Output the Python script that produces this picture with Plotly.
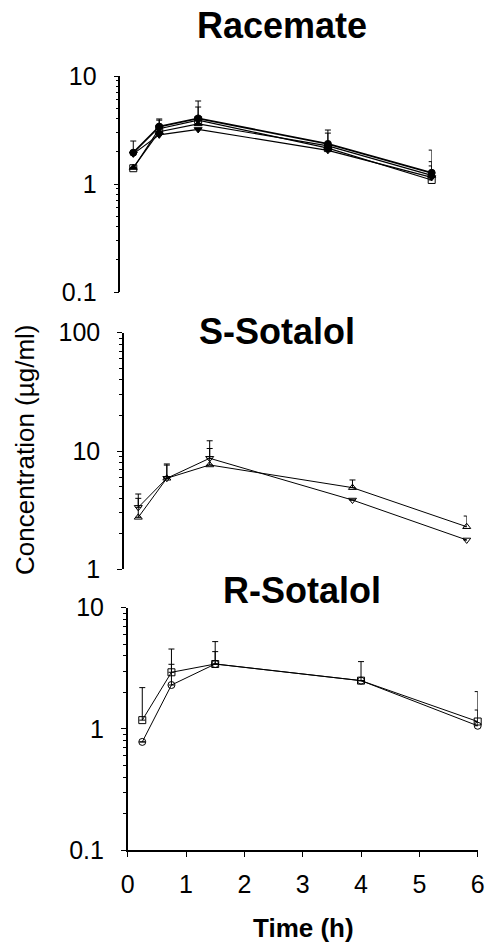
import plotly.graph_objects as go

# ---- data ----
time_h = [0.25, 0.75, 1.5, 4, 6]

# Racemate (four series)
rac_circle = [1.95, 3.40, 4.05, 2.35, 1.27]
rac_circle_err = [2.50, 4.00, 5.87, 3.16, 2.06]
rac_square = [1.40, 3.25, 3.90, 2.15, 1.09]
rac_square_err = [1.40, 3.90, 5.16, 2.96, 1.47]
rac_tri_up = [1.42, 3.05, 3.60, 2.25, 1.20]
rac_tri_up_err = [1.42, 3.05, 3.60, 2.25, 1.61]
rac_tri_down = [1.90, 2.85, 3.20, 2.05, 1.15]

# S-Sotalol
s_tri_down = [3.34, 5.88, 8.68, 3.85, 1.77]
s_tri_down_err = [4.33, 7.60, 12.2, 3.85, 1.77]
s_tri_up = [2.75, 5.88, 7.62, 4.90, 2.29]
s_tri_up_err = [3.98, 7.77, 10.5, 5.69, 2.82]

# R-Sotalol
r_square = [1.18, 2.93, 3.43, 2.50, 1.15]
r_square_err = [2.19, 4.56, 5.25, 3.59, 2.03]
r_circle = [0.78, 2.30, 3.43, 2.50, 1.06]
r_circle_err = [0.78, 3.41, 4.34, 2.50, 1.43]

x_ticks = [0, 1, 2, 3, 4, 5, 6]
titles = ["Racemate", "S-Sotalol", "R-Sotalol"]
y_title = "Concentration (µg/ml)"
x_title = "Time (h)"

W, H = 488, 945
FONT = "Liberation Sans, Arial, Helvetica, sans-serif"

fig = go.Figure()


def add_series(xa, ya, y, err, symbol, lw=1.0):
    kw = {}
    if err is not None:
        kw["error_y"] = dict(type="data", symmetric=False,
                             array=[e - v for e, v in zip(err, y)],
                             arrayminus=[0] * len(y),
                             color="black", thickness=1, width=3)
    fig.add_trace(go.Scatter(
        x=time_h, y=y, xaxis=xa, yaxis=ya, mode="lines+markers",
        line=dict(color="black", width=lw),
        marker=dict(symbol=symbol, size=7, color="black",
                    line=dict(color="black", width=1)),
        cliponaxis=False, showlegend=False, **kw))


add_series("x", "y", rac_tri_down, None, "triangle-down", 1.2)
add_series("x", "y", rac_tri_up, rac_tri_up_err, "triangle-up", 1.2)
add_series("x", "y", rac_square, rac_square_err, "square-open", 1.2)
add_series("x", "y", rac_circle, rac_circle_err, "circle", 1.8)

add_series("x2", "y2", s_tri_down, s_tri_down_err, "triangle-down-open")
add_series("x2", "y2", s_tri_up, s_tri_up_err, "triangle-up-open")

add_series("x3", "y3", r_circle, r_circle_err, "circle-open")
add_series("x3", "y3", r_square, r_square_err, "square-open")


def px_x(p):
    return p / W


def px_y(p):
    return 1 - p / H


def minor_vals(lo, hi):
    vals = []
    d = lo
    while d < hi:
        for m in range(2, 10):
            vals.append(m * d)
        d *= 10
    return vals


def yaxis(lo, hi, top, bottom, anchor, labels):
    return dict(type="log", range=[lo, hi], domain=[px_y(bottom), px_y(top)],
                anchor=anchor, showline=True, linecolor="black", linewidth=1.5,
                ticks="outside", ticklen=5, tickwidth=1, tickcolor="black",
                tickvals=[10 ** k for k in range(lo, hi + 1)], ticktext=labels,
                tickfont=dict(family=FONT, size=25, color="black"),
                ticklabelstandoff=12,
                minor=dict(ticks="outside", ticklen=3, tickwidth=1, tickcolor="black",
                           tickvals=minor_vals(10 ** lo, 10 ** hi)),
                showgrid=False, zeroline=False, automargin=False)


fig.update_layout(
    width=W, height=H, template="none",
    margin=dict(l=0, r=0, t=0, b=0),
    paper_bgcolor="white", plot_bgcolor="rgba(0,0,0,0)",
    xaxis=dict(range=[0, 6], domain=[px_x(120.3), px_x(431.7)], anchor="y",
               visible=False),
    xaxis2=dict(range=[0, 6], domain=[px_x(124.0), px_x(466.7)], anchor="y2",
                visible=False),
    xaxis3=dict(range=[0, 6], domain=[px_x(127.7), px_x(477.7)], anchor="y3",
                showline=True, linecolor="black", linewidth=1.5,
                ticks="outside", ticklen=5, tickwidth=1, tickcolor="black",
                tickvals=x_ticks, ticktext=[str(v) for v in x_ticks],
                tickfont=dict(family=FONT, size=25, color="black"),
                ticklabelstandoff=6,
                showgrid=False, zeroline=False, automargin=False),
    yaxis=yaxis(-1, 1, 76, 292, "x", ["0.1", "1", "10"]),
    yaxis2=yaxis(0, 2, 332.7, 569.3, "x2", ["1", "10", "100"]),
    yaxis3=yaxis(-1, 1, 607.7, 850, "x3", ["0.1", "1", "10"]),
)

title_pos = [(282, 25), (277, 332), (302, 590)]
for t, (cx, cy) in zip(titles, title_pos):
    fig.add_annotation(text="<b>%s</b>" % t, x=px_x(cx), y=px_y(cy),
                       xref="paper", yref="paper", showarrow=False,
                       xanchor="center", yanchor="middle",
                       font=dict(family=FONT, size=36, color="black"))

fig.add_annotation(text=y_title, x=px_x(25), y=px_y(450), xref="paper", yref="paper",
                   showarrow=False, textangle=-90, xanchor="center", yanchor="middle",
                   font=dict(family=FONT, size=26, color="black"))
fig.add_annotation(text="<b>%s</b>" % x_title, x=px_x(303), y=px_y(928),
                   xref="paper", yref="paper", showarrow=False,
                   xanchor="center", yanchor="middle",
                   font=dict(family=FONT, size=26, color="black"))

fig.write_html("out.html")
